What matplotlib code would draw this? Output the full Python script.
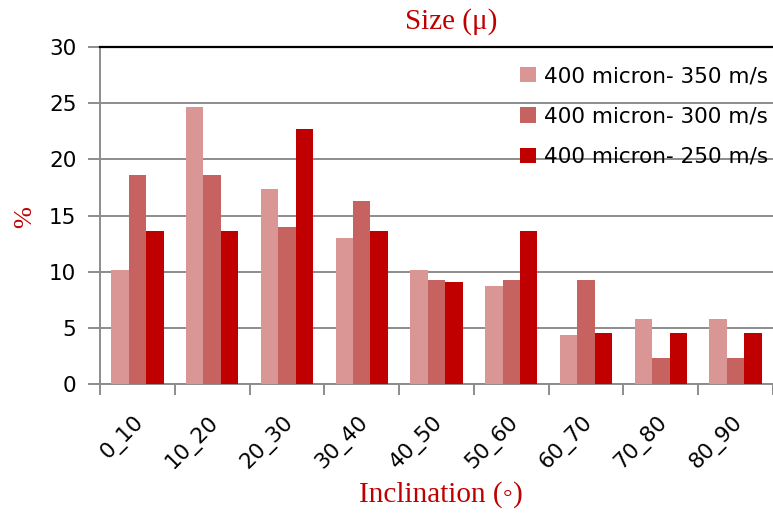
import matplotlib
matplotlib.use("Agg")
import matplotlib.pyplot as plt
import matplotlib.transforms as mtransforms
import numpy as np

categories = ["0_10", "10_20", "20_30", "30_40", "40_50", "50_60", "60_70", "70_80", "80_90"]
series_names = ["400 micron- 350 m/s", "400 micron- 300 m/s", "400 micron- 250 m/s"]
v350 = [10.14, 24.64, 17.39, 13.04, 10.14, 8.70, 4.35, 5.80, 5.80]
v300 = [18.60, 18.60, 13.95, 16.28, 9.30, 9.30, 9.30, 2.33, 2.33]
v250 = [13.64, 13.64, 22.73, 13.64, 9.09, 13.64, 4.55, 4.55, 4.55]
colors = ["#D99694", "#C6625F", "#C00000"]
yticks = [0, 5, 10, 15, 20, 25, 30]

red = "#C00000"
grid_gray = "#8C8C8C"
sans = "DejaVu Sans"

fig = plt.figure(figsize=(7.73, 5.16), dpi=100)
ax = fig.add_axes([100 / 773, 1 - 384 / 516, 1 - 100 / 773, (384 - 47) / 516])

x = np.arange(len(categories))
w = 0.233
for i, (vals, name, c) in enumerate(zip([v350, v300, v250], series_names, colors)):
    ax.bar(x + (i - 1) * w, vals, width=w, color=c, label=name, zorder=3)

ax.set_ylim(0, 30)
ax.set_xlim(-0.5, -0.5 + 673 / 75.8)
ax.set_yticks(yticks)
ax.set_yticklabels([str(t) for t in yticks], fontsize=15.5, family=sans)
ax.yaxis.grid(True, color=grid_gray, linewidth=1.4, zorder=0)
ax.set_axisbelow(True)

# category ticks sit on the boundaries between groups
ax.set_xticks(np.arange(len(categories) + 1) - 0.5)
ax.set_xticklabels([])
ax.set_xticks(x, minor=True)
ax.set_xticklabels(categories, minor=True, rotation=45, ha="right",
                   rotation_mode="anchor", fontsize=15.5, family=sans)
ax.tick_params(axis="x", which="minor", length=0, pad=20)
ax.tick_params(axis="x", which="major", length=8, width=1.4, color=grid_gray, direction="out")
ax.tick_params(axis="y", length=9, width=1.4, color=grid_gray, direction="out", pad=8)
shift = mtransforms.ScaledTranslation(-4 / 100, 0, fig.dpi_scale_trans)
for lbl in ax.get_xticklabels(minor=True):
    lbl.set_transform(lbl.get_transform() + shift)

for s in ["left", "bottom"]:
    ax.spines[s].set_color(grid_gray)
    ax.spines[s].set_linewidth(1.4)
ax.spines["right"].set_visible(False)
ax.spines["top"].set_color("black")
ax.spines["top"].set_linewidth(1.6)

fig.text(451 / 773, 1 - 22 / 516, "Size (μ)", color=red, fontsize=21,
         family="Liberation Serif", ha="center", va="center")
fig.text(441 / 773, 1 - 495 / 516, "Inclination (◦)", color=red, fontsize=21,
         family=["Liberation Serif", "DejaVu Serif"], ha="center", va="center")
fig.text(25 / 773, 1 - 217 / 516, "%", color=red, fontsize=19,
         family="Liberation Serif", ha="center", va="center", rotation=90)

leg = ax.legend(loc="upper right", bbox_to_anchor=(768 / 773, 1 - 66 / 516),
                bbox_transform=fig.transFigure, frameon=False,
                prop={"family": sans, "size": 15.5}, handlelength=0.75,
                handleheight=0.75, handletextpad=0.35, labelspacing=0.95,
                borderaxespad=0, borderpad=0)

fig.savefig("out.png", dpi=100)
